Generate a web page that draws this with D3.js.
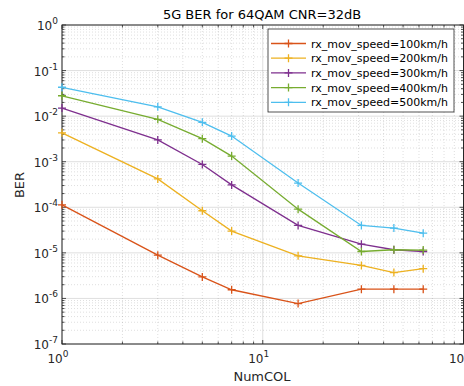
<!DOCTYPE html>
<html><head><meta charset="utf-8">
<script src="https://cdn.jsdelivr.net/npm/d3@7"></script>
<style>body{margin:0;background:#fff}svg{display:block;font-family:"DejaVu Sans",sans-serif}</style>
</head><body><svg id="c" width="464" height="386"></svg>
<script>
const numCol = [1, 3, 5, 7, 15, 31, 45, 63];
const ber100 = [1.13e-4, 8.9e-6, 2.97e-6, 1.55e-6, 7.7e-7, 1.6e-6, 1.6e-6, 1.6e-6];
const ber200 = [4.3e-3, 4.2e-4, 8.4e-5, 3.0e-5, 8.6e-6, 5.3e-6, 3.7e-6, 4.5e-6];
const ber300 = [1.5e-2, 3.0e-3, 8.7e-4, 3.1e-4, 4.0e-5, 1.55e-5, 1.17e-5, 1.07e-5];
const ber400 = [2.8e-2, 8.5e-3, 3.2e-3, 1.33e-3, 9.1e-5, 1.07e-5, 1.17e-5, 1.15e-5];
const ber500 = [4.3e-2, 1.6e-2, 7.3e-3, 3.65e-3, 3.4e-4, 4.0e-5, 3.5e-5, 2.7e-5];
const seriesNames = ["rx_mov_speed=100km/h","rx_mov_speed=200km/h","rx_mov_speed=300km/h","rx_mov_speed=400km/h","rx_mov_speed=500km/h"];
const seriesColors = ["#D95319","#EDB120","#7E2F8E","#77AC30","#4DBEEE"];
const xTickExps = [0, 1, 2];
const yTickExps = [0, -1, -2, -3, -4, -5, -6, -7];
const title = "5G BER for 64QAM CNR=32dB";
const xLabel = "NumCOL", yLabel = "BER";

const series = [ber100, ber200, ber300, ber400, ber500];
const svg = d3.select("#c");
const L = 62, R = 463.5, T = 25, B = 344;
const x = d3.scaleLog().domain([1, 100]).range([L, R]);
const y = d3.scaleLog().domain([1e-7, 1]).range([B, T]);
const ax = "#262626";

// minor grid
const g = svg.append("g");
const xMinor = [], yMinor = [];
for (let d = 0; d < 2; d++) for (let k = 2; k <= 9; k++) xMinor.push(k * Math.pow(10, d));
for (let d = -7; d < 0; d++) for (let k = 2; k <= 9; k++) yMinor.push(k * Math.pow(10, d));
g.selectAll(".xm").data(xMinor).join("line").attr("x1", d => x(d)).attr("x2", d => x(d)).attr("y1", T).attr("y2", B)
  .attr("stroke", ax).attr("stroke-opacity", 0.25).attr("stroke-width", 0.6).attr("stroke-dasharray", "1,2");
g.selectAll(".ym").data(yMinor).join("line").attr("y1", d => y(d)).attr("y2", d => y(d)).attr("x1", L).attr("x2", R)
  .attr("stroke", ax).attr("stroke-opacity", 0.25).attr("stroke-width", 0.6).attr("stroke-dasharray", "1,2");
// major grid
g.selectAll(".xM").data(xTickExps.map(e => Math.pow(10, e))).join("line").attr("x1", d => x(d)).attr("x2", d => x(d)).attr("y1", T).attr("y2", B)
  .attr("stroke", ax).attr("stroke-opacity", 0.15).attr("stroke-width", 1);
g.selectAll(".yM").data(yTickExps.map(e => Math.pow(10, e))).join("line").attr("y1", d => y(d)).attr("y2", d => y(d)).attr("x1", L).attr("x2", R)
  .attr("stroke", ax).attr("stroke-opacity", 0.15).attr("stroke-width", 1);

// box
svg.append("rect").attr("x", L).attr("y", T).attr("width", R - L).attr("height", B - T)
  .attr("fill", "none").attr("stroke", ax).attr("stroke-width", 1);

// ticks (inside, both sides)
const tk = svg.append("g").attr("stroke", ax).attr("stroke-width", 0.8);
xTickExps.map(e => Math.pow(10, e)).forEach(v => {
  tk.append("line").attr("x1", x(v)).attr("x2", x(v)).attr("y1", B).attr("y2", B - 4);
  tk.append("line").attr("x1", x(v)).attr("x2", x(v)).attr("y1", T).attr("y2", T + 4);
});
xMinor.forEach(v => {
  tk.append("line").attr("x1", x(v)).attr("x2", x(v)).attr("y1", B).attr("y2", B - 2.5);
  tk.append("line").attr("x1", x(v)).attr("x2", x(v)).attr("y1", T).attr("y2", T + 2.5);
});
yTickExps.map(e => Math.pow(10, e)).forEach(v => {
  tk.append("line").attr("y1", y(v)).attr("y2", y(v)).attr("x1", L).attr("x2", L + 4);
  tk.append("line").attr("y1", y(v)).attr("y2", y(v)).attr("x1", R).attr("x2", R - 4);
});
yMinor.forEach(v => {
  tk.append("line").attr("y1", y(v)).attr("y2", y(v)).attr("x1", L).attr("x2", L + 2.5);
  tk.append("line").attr("y1", y(v)).attr("y2", y(v)).attr("x1", R).attr("x2", R - 2.5);
});

// tick labels
function powLabel(sel, e) {
  sel.append("tspan").text("10");
  sel.append("tspan").attr("dy", -6).attr("font-size", 9).text(String(e).replace("-", "-"));
}
xTickExps.forEach(e => {
  const t = svg.append("text").attr("x", x(Math.pow(10, e)) - 4).attr("y", 363).attr("text-anchor", "middle")
    .attr("font-size", 12).attr("fill", ax);
  powLabel(t, e);
});
yTickExps.forEach(e => {
  const t = svg.append("text").attr("x", 58).attr("y", y(Math.pow(10, e)) + 5).attr("text-anchor", "end")
    .attr("font-size", 12).attr("fill", ax);
  powLabel(t, e);
});

// labels
svg.append("text").attr("x", 262).attr("y", 19).attr("text-anchor", "middle").attr("font-size", 13).attr("fill", "#000").text(title);
svg.append("text").attr("x", 262).attr("y", 381).attr("text-anchor", "middle").attr("font-size", 13).attr("fill", ax).text(xLabel);
svg.append("text").attr("transform", "translate(24,185) rotate(-90)").attr("text-anchor", "middle").attr("font-size", 13).attr("fill", ax).text(yLabel);

// series
const line = d3.line().x(d => x(d[0])).y(d => y(d[1]));
series.forEach((s, i) => {
  const pts = numCol.map((c, j) => [c, s[j]]);
  const gs = svg.append("g");
  gs.append("path").attr("d", line(pts)).attr("fill", "none").attr("stroke", seriesColors[i]).attr("stroke-width", 1.3);
  gs.selectAll("path.m").data(pts).join("path").attr("class", "m")
    .attr("d", d => `M${x(d[0]) - 4},${y(d[1])}h8M${x(d[0])},${y(d[1]) - 4}v8`)
    .attr("stroke", seriesColors[i]).attr("stroke-width", 1.3).attr("fill", "none");
});

// legend
const lg = svg.append("g");
lg.append("rect").attr("x", 268).attr("y", 29).attr("width", 186).attr("height", 83)
  .attr("fill", "#fff").attr("stroke", ax).attr("stroke-width", 0.8);
seriesNames.forEach((n, i) => {
  const yy = 43.5 + i * 14.7;
  lg.append("line").attr("x1", 271).attr("x2", 306).attr("y1", yy).attr("y2", yy).attr("stroke", seriesColors[i]).attr("stroke-width", 1.3);
  lg.append("path").attr("d", `M284.5,${yy}h8M288.5,${yy - 4}v8`).attr("stroke", seriesColors[i]).attr("stroke-width", 1.3);
  lg.append("text").attr("x", 311).attr("y", yy + 4).attr("font-size", 11).attr("fill", "#000").text(n);
});
</script></body></html>
